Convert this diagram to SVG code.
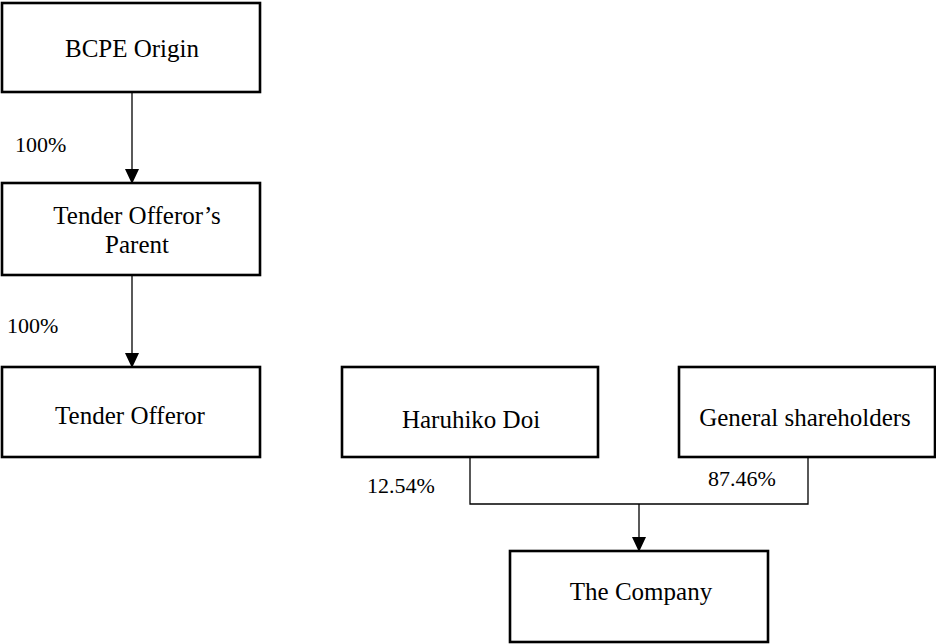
<svg xmlns="http://www.w3.org/2000/svg" width="936" height="644" viewBox="0 0 936 644">
<style>
.box{fill:#fff;stroke:#000;stroke-width:2.6}
.lbl{font-family:"Liberation Serif","Times New Roman",serif;font-size:25px;fill:#000;text-anchor:middle}
.pct{font-family:"Liberation Serif","Times New Roman",serif;font-size:22px;fill:#000}
.ln{fill:none;stroke:#000;stroke-width:1.3}
</style>
<defs>
<marker id="ah" markerWidth="15" markerHeight="16" refX="15" refY="7.5" orient="auto" markerUnits="userSpaceOnUse" viewBox="0 0 16 15">
<path d="M0,0 L16,7.5 L0,15 Z" fill="#000"/>
</marker>
</defs>
<rect width="936" height="644" fill="#fff"/>
<g id="connectors">
<line class="ln" x1="132" y1="93" x2="132" y2="183" marker-end="url(#ah)"/>
<line class="ln" x1="132" y1="276" x2="132" y2="367" marker-end="url(#ah)"/>
<polyline class="ln" points="470,458 470,504 808,504 808,458"/>
<line class="ln" x1="639" y1="504" x2="639" y2="551" marker-end="url(#ah)"/>
<text class="pct" x="15" y="152">100%</text>
<text class="pct" x="7" y="333">100%</text>
<text class="pct" x="367" y="493">12.54%</text>
<text class="pct" x="708" y="486">87.46%</text>
</g>
<g id="bcpe">
<rect class="box" x="2" y="3" width="258" height="89"/>
<text class="lbl" x="132" y="57">BCPE Origin</text>
</g>
<g id="parent">
<rect class="box" x="2" y="183" width="258" height="92"/>
<text class="lbl" x="137" y="224">Tender Offeror’s</text>
<text class="lbl" x="137" y="253">Parent</text>
</g>
<g id="offeror">
<rect class="box" x="2" y="367" width="258" height="90"/>
<text class="lbl" x="130" y="424">Tender Offeror</text>
</g>
<g id="doi">
<rect class="box" x="342" y="367" width="256" height="90"/>
<text class="lbl" x="471" y="428">Haruhiko Doi</text>
</g>
<g id="general">
<rect class="box" x="679" y="367" width="256" height="90"/>
<text class="lbl" x="805" y="426">General shareholders</text>
</g>
<g id="company">
<rect class="box" x="510" y="551" width="258" height="91"/>
<text class="lbl" x="641" y="600">The Company</text>
</g>
</svg>
